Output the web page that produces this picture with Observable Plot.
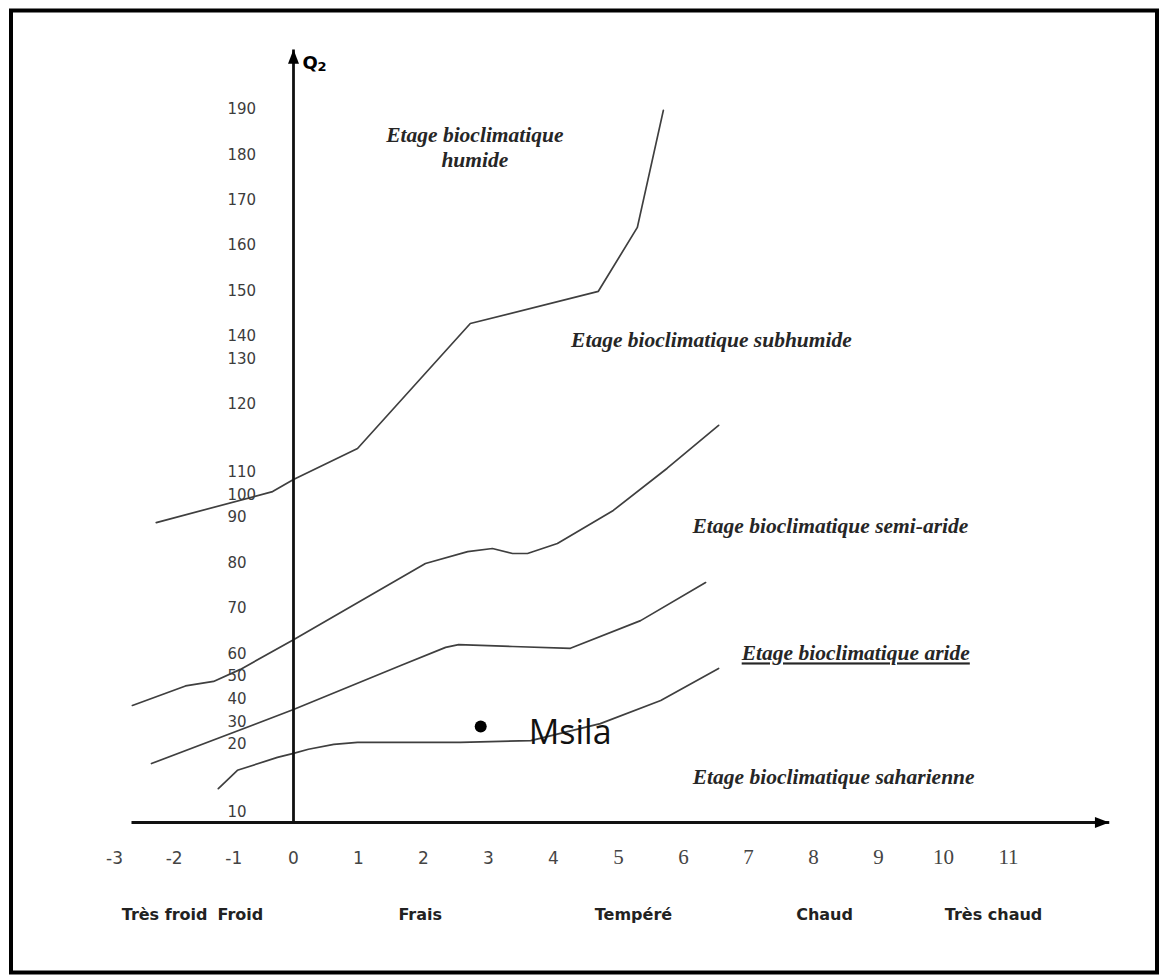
<!DOCTYPE html>
<html>
<head>
<meta charset="utf-8">
<script src="https://cdn.jsdelivr.net/npm/d3@7"></script>
<script src="https://cdn.jsdelivr.net/npm/@observablehq/plot@0.6"></script>
<style>
  body { margin: 0; background: #fff; }
  #chart svg { display: block; }
  g[aria-description="zone-aride"] text { text-decoration: underline; text-decoration-thickness: 2px; }
</style>
</head>
<body>
<div id="chart"></div>
<script>
// ---- Axis ticks (Emberger climagram: m on x, Q2 on y) ----
const xTicksSans = [-3, -2, -1, 0, 1, 2, 3, 4];
const xTicksSerif = [5, 6, 7, 8, 9, 10, 11];
const q2Ticks = [10, 20, 30, 40, 50, 60, 70, 80, 90, 100, 110, 120, 130, 140, 150, 160, 170, 180, 190];
// grid steps of the hand-drawn (non-uniform) Q2 axis
const q2TickRows = [0, 3, 4, 5, 6, 7, 9, 11, 13, 14, 15, 18, 20, 21, 23, 25, 27, 29, 31];

// ---- Thermal classes (below the x axis) ----
const thermalNames = ["Très froid", "Froid", "Frais", "Tempéré", "Chaud", "Très chaud"];
const thermalM = [-2.16, -0.89, 1.95, 5.23, 8.17, 10.77];

// ---- Limits between bioclimatic stages ----
const humideM = [-2.3, -0.35, 0, 0.985, 2.72, 4.69, 5.29, 5.69];
const humideQ = [88.9, 101.5, 106.8, 113.5, 142.8, 149.9, 164, 189.8];
const subhumideM = [-2.7, -1.81, -1.34, -0.89, 0, 2.03, 2.68, 3.06, 3.37, 3.6, 4.06, 4.92, 5.75, 6.54];
const subhumideQ = [37.2, 45.8, 47.8, 53.1, 63.1, 79.9, 82.5, 83.2, 82.1, 82.1, 84.3, 93.2, 110.6, 116.9];
const semiarideM = [-2.38, 0, 1.65, 2.34, 2.54, 3.37, 4.26, 5.34, 6.34];
const semiarideQ = [17.2, 35.4, 54.8, 61.4, 62.0, 61.6, 61.2, 67.3, 75.7];
const arideM = [-1.26, -0.94, -0.27, 0, 0.23, 0.62, 0.985, 2.57, 3.65, 4.72, 5.65, 6.54];
const arideQ = [13.5, 16.2, 18.1, 18.7, 19.3, 20.0, 20.9, 20.9, 21.7, 29.2, 39.4, 53.5];

// ---- Stage labels ----
const zoneNames = ["Etage bioclimatique\nhumide", "Etage bioclimatique subhumide", "Etage bioclimatique semi-aride", "Etage bioclimatique saharienne"];
const zoneM = [2.79, 6.43, 8.26, 8.31];
const zoneQ = [181.9, 139.0, 88.5, 15.4];
const arideLabel = "Etage bioclimatique aride";
const arideLabelM = 8.65;
const arideLabelQ = 60.05;

// ---- Station ----
const stationName = "Msila";
const stationM = 2.88;
const stationQ = 27.9;

// ---- Axis extents ----
const mAxisStart = -2.715, mAxisEnd = 12.55;
const qAxisBase = 8.53, qAxisTop = 203.2;

// tables built from the arrays
const limits = [
  ...humideM.map((m, i) => ({limit: "humide", m, q: humideQ[i]})),
  ...subhumideM.map((m, i) => ({limit: "subhumide", m, q: subhumideQ[i]})),
  ...semiarideM.map((m, i) => ({limit: "semiaride", m, q: semiarideQ[i]})),
  ...arideM.map((m, i) => ({limit: "aride", m, q: arideQ[i]}))
];
const zones = zoneNames.map((t, i) => ({t, m: zoneM[i], q: zoneQ[i]}));
const thermal = thermalNames.map((t, i) => ({t, m: thermalM[i]}));
const axes = [
  {x1: mAxisStart, y1: qAxisBase, x2: mAxisEnd, y2: qAxisBase, rot: 90},
  {x1: 0, y1: qAxisBase, x2: 0, y2: qAxisTop, rot: 0}
];

// filled arrow head, tip at origin, pointing up
const arrowHead = {
  draw(ctx, size) {
    const s = Math.sqrt(size / Math.PI);
    const h = s * 2.6, w = s;
    ctx.moveTo(0, 0);
    ctx.lineTo(w, h);
    ctx.lineTo(-w, h);
    ctx.closePath();
  }
};

// the drawing's hand-made axes: piecewise mapping of data onto the page
const W = 1160, H = 976;
const mL = 10.5, mR = 3.5, mT = 10, mB = 4;
const yBase = 812, rowStep = 22.68;
const mToPage = m => (m < 0 ? 293 + m * 59.67 : 293 + m * 65);
const qToPageScale = d3.scaleLinear().domain(q2Ticks).range(q2TickRows.map(r => yBase - r * rowStep));
const qToPage = q => qToPageScale(q);

const serifLabel = {fontFamily: "Liberation Serif", fontStyle: "italic", fontWeight: "bold", fontSize: 21.5, fill: "#262626"};

const chart = Plot.plot({
  width: W,
  height: H,
  marginTop: mT,
  marginLeft: mL,
  marginRight: mR,
  marginBottom: mB,
  x: {type: "linear", transform: mToPage, domain: [mL, W - mR], axis: null},
  y: {type: "linear", transform: qToPage, domain: [H - mB, mT], axis: null},
  style: {background: "#fff"},
  marks: [
    Plot.frame({stroke: "#000", strokeWidth: 4}),
    Plot.line(limits, {x: "m", y: "q", z: "limit", stroke: "#3f3f3f", strokeWidth: 1.7}),
    Plot.link(axes, {x1: "x1", y1: "y1", x2: "x2", y2: "y2", stroke: "#111", strokeWidth: 2.8}),
    Plot.dot(axes, {x: "x2", y: "y2", rotate: "rot", symbol: arrowHead, r: 5.5, fill: "#000", stroke: "none"}),
    // Q2 label
    Plot.text([{m: 0, q: qAxisTop}], {x: "m", y: "q", text: () => "Q", dx: 9, dy: 14, textAnchor: "start",
      fontFamily: "DejaVu Sans", fontWeight: "bold", fontSize: 18, fill: "#000"}),
    Plot.text([{m: 0, q: qAxisTop}], {x: "m", y: "q", text: () => "2", dx: 24, dy: 17, textAnchor: "start",
      fontFamily: "DejaVu Sans", fontWeight: "bold", fontSize: 13, fill: "#000"}),
    // Q2 tick labels
    Plot.text(q2Ticks, {y: d => d, text: d => String(d), frameAnchor: "left", dx: 216.5, textAnchor: "start",
      fontFamily: "DejaVu Sans", fontSize: 15, fill: "#3c3c3c"}),
    // m tick labels
    Plot.text(xTicksSans, {x: d => d, text: d => String(d), frameAnchor: "bottom", dy: -109,
      fontFamily: "DejaVu Sans", fontSize: 17, fill: "#444"}),
    Plot.text(xTicksSerif, {x: d => d, text: d => String(d), frameAnchor: "bottom", dy: -109,
      fontFamily: "Liberation Serif", fontSize: 21, fill: "#444"}),
    // thermal classes
    Plot.text(thermal, {x: "m", text: "t", frameAnchor: "bottom", dy: -53,
      fontFamily: "DejaVu Sans", fontWeight: "bold", fontSize: 16, fill: "#222"}),
    // stage labels
    Plot.text(zones, {x: "m", y: "q", text: "t", lineHeight: 1.2, ...serifLabel}),
    Plot.text([{m: arideLabelM, q: arideLabelQ}], {x: "m", y: "q", text: () => arideLabel,
      ariaDescription: "zone-aride", ...serifLabel}),
    // station
    Plot.dot([{m: stationM, q: stationQ}], {x: "m", y: "q", r: 6, fill: "#000"}),
    Plot.text([{m: stationM, q: stationQ}], {x: "m", y: "q", text: () => stationName, textAnchor: "start", dx: 48, dy: 7,
      fontFamily: "Open Sans", fontSize: 34, fill: "#111"})
  ]
});

document.getElementById("chart").appendChild(chart);
</script>
</body>
</html>
